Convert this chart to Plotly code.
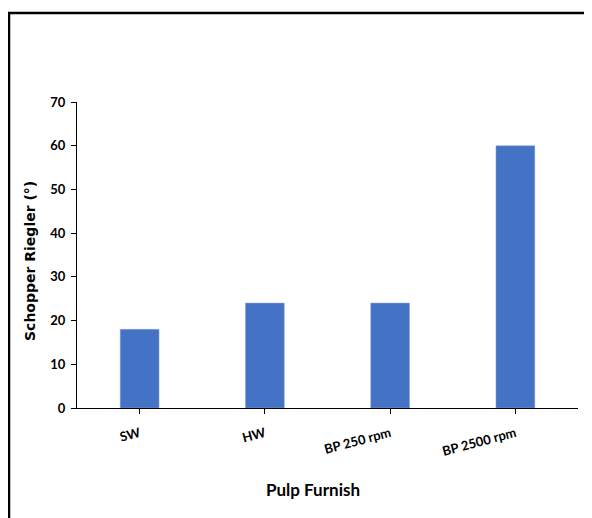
import plotly.graph_objects as go

categories = ["SW", "HW", "BP 250 rpm", "BP 2500 rpm"]
values = [18, 24, 24, 60]
y_ticks = [0, 10, 20, 30, 40, 50, 60, 70]

# page body has an 8px margin: figure coords = screen coords - 8
W, H = 584, 510
L, R, T, B = 69, 14, 94, 110
pw = W - L - R
ph = H - T - B

def px(x):
    return (x - L) / pw

def py(y):
    return (H - B - y) / ph

fig = go.Figure()
fig.add_trace(go.Bar(
    x=categories, y=values,
    marker=dict(color="#4472C4", line=dict(color="#8EA9DB", width=0.5)),
    width=0.31,
))

fig.update_layout(
    width=W, height=H,
    margin=dict(l=L, r=R, t=T, b=B),
    paper_bgcolor="white", plot_bgcolor="white",
    showlegend=False,
    xaxis=dict(
        showline=True, linecolor="#000000", linewidth=1,
        ticks="outside", ticklen=5, tickcolor="#000000",
        tickangle=-15,
        ticklabelstandoff=7,
        tickfont=dict(family="Lato", size=13, color="#000000", weight="bold"),
        showgrid=False,
    ),
    yaxis=dict(
        range=[0, 70], tickvals=y_ticks,
        showline=True, linecolor="#000000", linewidth=1,
        ticks="outside", ticklen=5, tickcolor="#000000",
        ticklabelstandoff=3,
        tickfont=dict(family="Lato", size=13, color="#000000", weight="bold"),
        showgrid=False, zeroline=False,
    ),
)

fig.add_annotation(text="Schopper Riegler (°)", xref="paper", yref="paper",
                   x=px(22), y=py(253), textangle=-90, showarrow=False,
                   xanchor="center", yanchor="middle",
                   font=dict(family="DejaVu Sans", size=14, color="#000000", weight="bold"))
fig.add_annotation(text="Pulp Furnish", xref="paper", yref="paper",
                   x=px(305), y=py(481), showarrow=False,
                   xanchor="center", yanchor="middle",
                   font=dict(family="Lato", size=17, color="#000000", weight="bold"))

# outer frame (left and top border of the figure box)
fig.add_shape(type="line", xref="paper", yref="paper",
              x0=px(1), x1=px(1), y0=py(5), y1=py(H + 5),
              line=dict(color="#000000", width=2.5))
fig.add_shape(type="line", xref="paper", yref="paper",
              x0=px(0), x1=px(W + 5), y0=py(5), y1=py(5),
              line=dict(color="#000000", width=2.5))

fig.write_html("out.html")
